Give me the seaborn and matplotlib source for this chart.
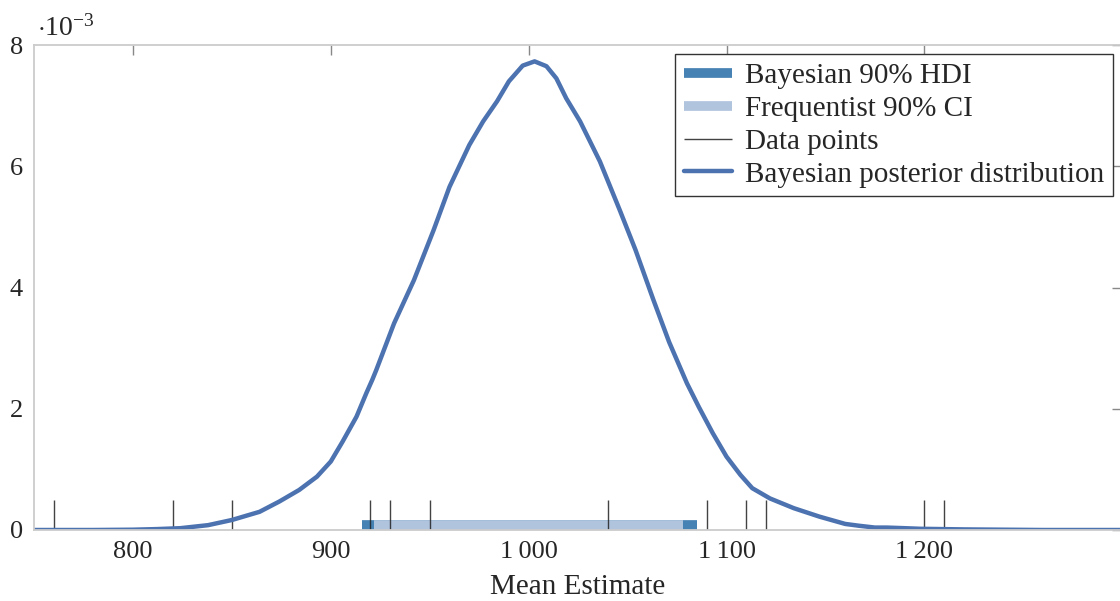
import matplotlib
matplotlib.use("Agg")
import matplotlib.pyplot as plt
import matplotlib.ticker as mticker
import numpy as np
import seaborn as sns

# values
data_points = [760, 820, 850, 920, 930, 950, 1040, 1090, 1110, 1120, 1200, 1210]
hdi_bounds = [916, 1085]
ci_bounds = [922, 1078]

# posterior density, in units of 1e-3
post_x = [750, 780, 800, 812, 824, 838, 850, 864, 874, 884,
          893, 900, 906, 913, 918, 921, 923, 932, 942, 952,
          960, 970, 977, 984, 990, 997, 1003, 1009, 1014, 1019,
          1026, 1031, 1036, 1046, 1054, 1063, 1071, 1080, 1086, 1093,
          1100, 1107, 1113, 1122, 1134, 1147, 1160, 1167, 1175, 1181,
          1190, 1198, 1220, 1260, 1300]
post_y = [0.0, 0.0, 0.005, 0.015, 0.03, 0.08, 0.165, 0.30, 0.47, 0.66,
          0.88, 1.13, 1.46, 1.87, 2.26, 2.48, 2.64, 3.41, 4.12, 4.95,
          5.66, 6.35, 6.74, 7.07, 7.40, 7.66, 7.73, 7.65, 7.45, 7.12,
          6.74, 6.41, 6.08, 5.28, 4.62, 3.80, 3.10, 2.42, 2.03, 1.60,
          1.21, 0.91, 0.69, 0.52, 0.36, 0.22, 0.10, 0.07, 0.04, 0.04,
          0.03, 0.02, 0.01, 0.0, 0.0]

sns.set_style("white")
plt.rcParams['font.family'] = ['Liberation Serif', 'DejaVu Serif']
plt.rcParams.update({'mathtext.fontset': 'custom', 'mathtext.rm': 'Liberation Serif',
                     'mathtext.it': 'Liberation Serif:italic', 'font.size': 20})

fig = plt.figure(figsize=(11.2, 6.01), dpi=100)
ax_left = 34 / 1120
ax_width = 1.0 - ax_left + 0.002
ax = fig.add_axes([ax_left, 1 - 530 / 601, ax_width, (530 - 45) / 601])

bar_y = 0.08e-3
sns.lineplot(x=hdi_bounds, y=[bar_y, bar_y], ax=ax, color="#4682b4", lw=7,
             solid_capstyle='butt', label="Bayesian 90% HDI")
sns.lineplot(x=ci_bounds, y=[bar_y, bar_y], ax=ax, color="#b0c4de", lw=7,
             solid_capstyle='butt', label="Frequentist 90% CI")
sns.rugplot(x=data_points, ax=ax, height=0.5e-3 / 8e-3, color="#222222", lw=0.8,
            alpha=0.85, label="Data points")
sns.lineplot(x=post_x, y=np.array(post_y) * 1e-3, ax=ax, color="#4c72b0", lw=3.2,
             solid_joinstyle='round', solid_capstyle='round',
             label="Bayesian posterior distribution")

ax.set_xlim(750, 1300)
ax.set_ylim(0, 8e-3)
ax.set_xticks([800, 900, 1000, 1100, 1200])
ax.set_yticks([0, 2e-3, 4e-3, 6e-3, 8e-3])
ax.xaxis.set_major_formatter(mticker.FuncFormatter(lambda v, p: f"{int(v):,}".replace(",", "\u2009")))
ax.yaxis.set_major_formatter(mticker.FuncFormatter(lambda v, p: f"{v * 1e3:g}"))
ax.tick_params(direction='in', top=True, right=True, length=7, width=1,
               color="#888888", labelsize=19, pad=8)

for s in ax.spines.values():
    s.set_color("#cccccc")
    s.set_linewidth(1.3)

ax.set_xlabel("Mean Estimate", fontsize=21, labelpad=8)
ax.set_ylabel("")
ax.text(0.003, 1.008, r"$\cdot 10^{-3}$", transform=ax.transAxes, ha='left', va='bottom', fontsize=20)

# legend box: right edge near x=1113 px, top 9 px under the axes top
leg_x = (1113 - 34) / (1120 * ax_width)
leg = ax.legend(loc='upper right', bbox_to_anchor=(leg_x, 1 - 9 / 485),
                bbox_transform=ax.transAxes, fontsize=21, frameon=True, fancybox=False,
                framealpha=1, edgecolor="#333333", borderpad=0.3, labelspacing=0.22,
                handlelength=1.65, handletextpad=0.45, borderaxespad=0)
leg.get_frame().set_linewidth(1.0)

fig.savefig("out.png", dpi=100)
